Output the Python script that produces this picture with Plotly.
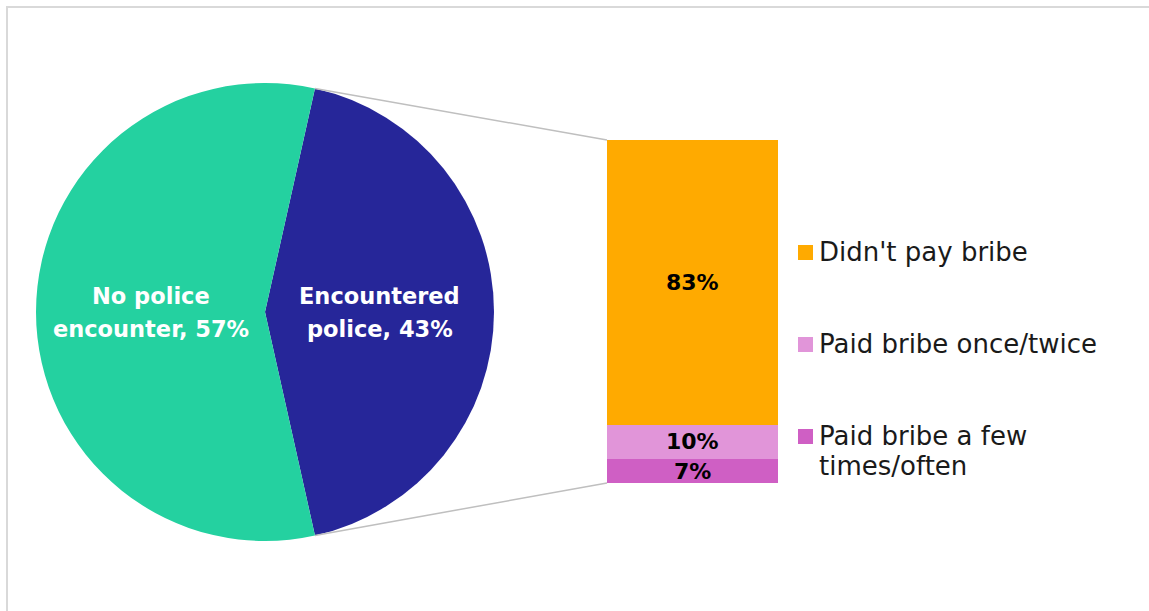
import math
import plotly.graph_objects as go

# Overall split of respondents
pie_labels = ["Encountered<br>police", "No police<br>encounter"]
pie_values = [43, 57]
pie_colors = ["#262699", "#24D1A0"]

# Breakdown of those who encountered police (stacked bottom to top)
bar_labels = ["Paid bribe a few<br>times/often", "Paid bribe once/twice", "Didn't pay bribe"]
bar_values = [7, 10, 83]
bar_colors = ["#CF5FC4", "#E195D9", "#FFAA00"]

W, H = 1149, 611
FONT = "DejaVu Sans"

# pixel geometry helpers
def px(x):
    return x / W

def py(y):
    return 1 - y / H

pie_cx, pie_cy, pie_r = 265, 312, 229
bar_left, bar_right, bar_top, bar_bottom = 607, 778, 140, 483

fig = go.Figure()

# Encountered slice centred on the right-hand side
half_angle = pie_values[0] / sum(pie_values) * 360 / 2
fig.add_trace(go.Pie(
    values=pie_values,
    labels=pie_labels,
    marker=dict(colors=pie_colors),
    sort=False,
    direction="clockwise",
    rotation=90 - half_angle,
    textinfo="none",
    hoverinfo="label+percent",
    showlegend=False,
    domain=dict(x=[px(pie_cx - pie_r), px(pie_cx + pie_r)],
                y=[py(pie_cy + pie_r), py(pie_cy - pie_r)]),
))

for lab, val, col in zip(bar_labels, bar_values, bar_colors):
    fig.add_trace(go.Bar(
        x=[0], y=[val], name=lab.replace("<br>", " "),
        marker=dict(color=col, line=dict(width=0)),
        width=1, showlegend=False,
    ))

annotations = []

# slice labels, placed halfway out along each slice's mid-angle
PIE_LINE = 32
for i, (lab, val) in enumerate(zip(pie_labels, pie_values)):
    mid = 0 if i == 0 else 180
    ax = pie_cx + 0.5 * pie_r * math.cos(math.radians(mid))
    ay = pie_cy - 0.5 * pie_r * math.sin(math.radians(mid))
    lines = f"{lab}, {val}%".split("<br>")
    for k, line in enumerate(lines):
        ly = ay + (k - (len(lines) - 1) / 2) * PIE_LINE + 0.5
        annotations.append(dict(
            x=px(ax), y=py(ly), xref="paper", yref="paper",
            text=f"<b>{line}</b>", showarrow=False,
            font=dict(family=FONT, size=22.5, color="white"),
            xanchor="center", yanchor="middle",
        ))

# value labels in the middle of each stacked segment
base = 0
for val in bar_values:
    annotations.append(dict(
        x=0, y=base + val / 2, xref="x", yref="y",
        text=f"<b>{val}%</b>", showarrow=False,
        font=dict(family=FONT, size=22, color="black"),
        xanchor="center", yanchor="middle",
    ))
    base += val

shapes = []

# connector lines from the slice edges to the bar ends
for sign, bar_y in ((1, bar_top), (-1, bar_bottom)):
    ex = pie_cx + pie_r * math.cos(math.radians(half_angle))
    ey = pie_cy - sign * pie_r * math.sin(math.radians(half_angle))
    shapes.append(dict(
        type="line", xref="paper", yref="paper",
        x0=px(ex), y0=py(ey), x1=px(bar_left), y1=py(bar_y),
        line=dict(color="#BFBFBF", width=1.5),
    ))

# legend: colour squares and labels, top entry first
legend_rows = [252.5, 344.5, 436.5]
LEG_LINE = 30
for lab, col, yc in zip(bar_labels[::-1], bar_colors[::-1], legend_rows):
    shapes.append(dict(
        type="rect", xref="paper", yref="paper",
        x0=px(798), x1=px(813), y0=py(yc + 7.5), y1=py(yc - 7.5),
        fillcolor=col, line=dict(width=0),
    ))
    for k, line in enumerate(lab.split("<br>")):
        annotations.append(dict(
            x=px(817), y=py(yc - 0.5 + k * LEG_LINE), xref="paper", yref="paper",
            text=line, showarrow=False,
            font=dict(family=FONT, size=26, color="#1A1A1A"),
            xanchor="left", yanchor="middle",
        ))

# chart frame
shapes.append(dict(
    type="rect", xref="paper", yref="paper",
    x0=px(7), x1=1.02, y0=-0.02, y1=py(7),
    line=dict(color="#D9D9D9", width=2), fillcolor="rgba(0,0,0,0)",
))

fig.update_layout(
    width=W, height=H,
    margin=dict(l=0, r=0, t=0, b=0),
    paper_bgcolor="white", plot_bgcolor="white",
    barmode="stack", bargap=0,
    xaxis=dict(domain=[px(bar_left), px(bar_right)], range=[-0.5, 0.5],
               visible=False, fixedrange=True),
    yaxis=dict(domain=[py(bar_bottom), py(bar_top)], range=[0, 100],
               visible=False, fixedrange=True),
    annotations=annotations,
    shapes=shapes,
    showlegend=False,
)

fig.write_html("out.html")
